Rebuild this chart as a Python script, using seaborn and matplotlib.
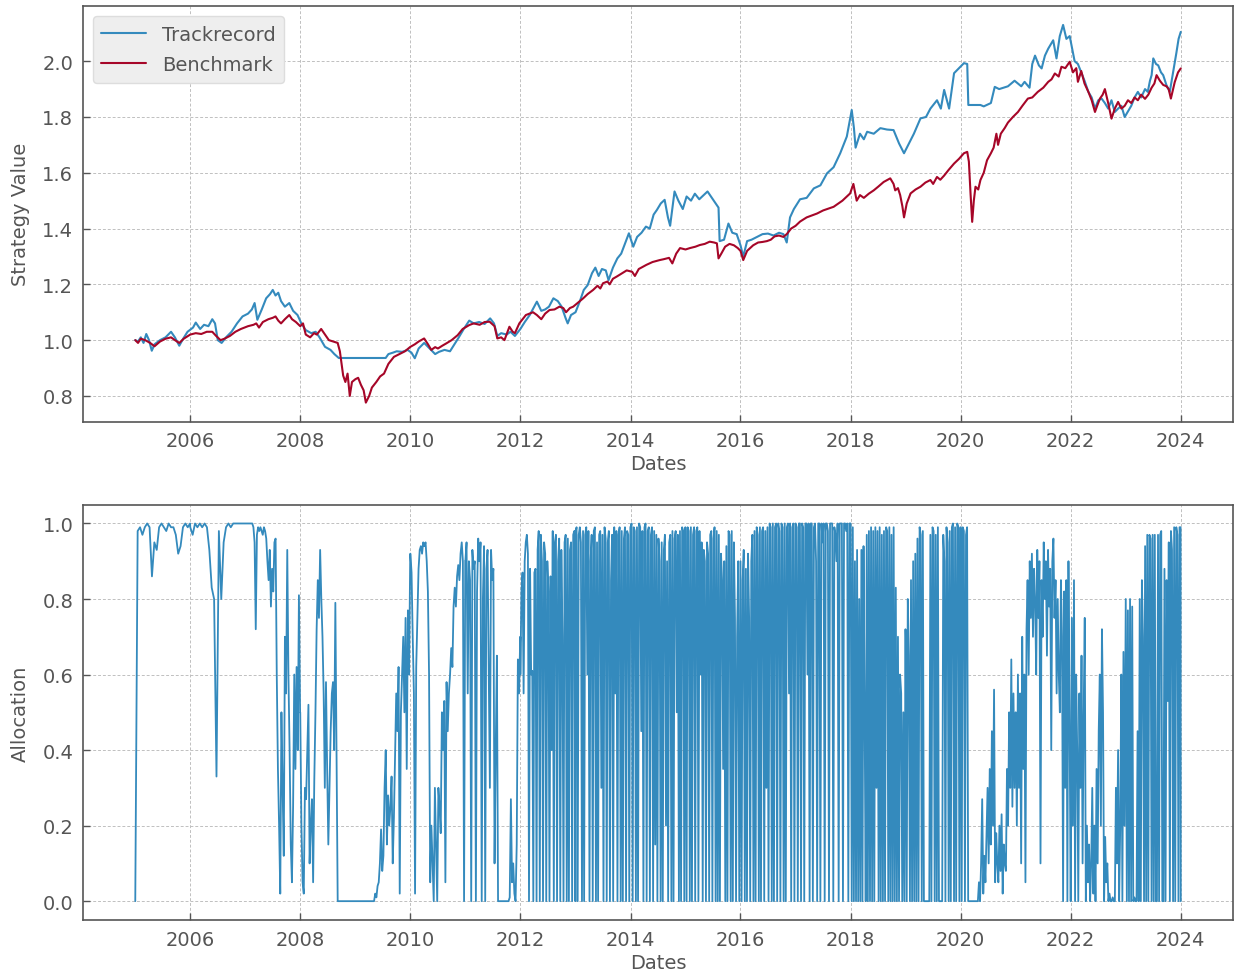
import matplotlib

matplotlib.use("Agg")
import matplotlib.dates as mdates
import matplotlib.pyplot as plt
import pandas as pd
import seaborn as sns
from matplotlib.ticker import MultipleLocator

BLUE = "#348ABD"
RED = "#A60628"
GREY = "#555555"

# ---------------------------------------------------------------------------
# Strategy value (decimal years)
# ---------------------------------------------------------------------------

track_years = [
    2005.00, 2005.05, 2005.10, 2005.15, 2005.20, 2005.25, 2005.30, 2005.35, 2005.45, 2005.55,
    2005.65, 2005.72, 2005.80, 2005.87, 2005.95, 2006.05, 2006.10, 2006.18, 2006.25, 2006.33,
    2006.40, 2006.45, 2006.50, 2006.57, 2006.65, 2006.75, 2006.85, 2006.95, 2007.05, 2007.12,
    2007.17, 2007.22, 2007.30, 2007.38, 2007.45, 2007.50, 2007.55, 2007.60, 2007.65, 2007.72,
    2007.80, 2007.87, 2007.95, 2008.02, 2008.10, 2008.20, 2008.28, 2008.35, 2008.45, 2008.55,
    2008.62, 2008.70, 2008.75, 2009.55, 2009.60, 2009.68, 2009.75, 2009.85, 2009.95, 2010.02,
    2010.08, 2010.15, 2010.25, 2010.35, 2010.45, 2010.52, 2010.62, 2010.72, 2010.80, 2010.88,
    2010.97, 2011.07, 2011.15, 2011.25, 2011.35, 2011.45, 2011.52, 2011.58, 2011.65, 2011.75,
    2011.82, 2011.90, 2012.00, 2012.08, 2012.17, 2012.25, 2012.30, 2012.38, 2012.45, 2012.52,
    2012.60, 2012.68, 2012.75, 2012.82, 2012.86, 2012.92, 2013.00, 2013.08, 2013.15, 2013.22,
    2013.30, 2013.36, 2013.42, 2013.48, 2013.55, 2013.60, 2013.68, 2013.76, 2013.83, 2013.90,
    2013.97, 2014.05, 2014.12, 2014.20, 2014.28, 2014.35, 2014.42, 2014.48, 2014.55, 2014.62,
    2014.68, 2014.72, 2014.80, 2014.87, 2014.95, 2015.02, 2015.10, 2015.17, 2015.25, 2015.33,
    2015.40, 2015.48, 2015.55, 2015.60, 2015.62, 2015.70, 2015.78, 2015.85, 2015.93, 2016.00,
    2016.05, 2016.12, 2016.20, 2016.30, 2016.40, 2016.50, 2016.60, 2016.70, 2016.78, 2016.84,
    2016.90, 2016.97, 2017.08, 2017.20, 2017.33, 2017.45, 2017.57, 2017.69, 2017.81, 2017.93,
    2018.02, 2018.06, 2018.09, 2018.17, 2018.24, 2018.30, 2018.42, 2018.54, 2018.66, 2018.78,
    2018.88, 2018.97, 2019.06, 2019.15, 2019.27, 2019.37, 2019.45, 2019.57, 2019.64, 2019.70,
    2019.79, 2019.88, 2020.06, 2020.12, 2020.14, 2020.36, 2020.42, 2020.55, 2020.62, 2020.70,
    2020.86, 2020.98, 2021.10, 2021.16, 2021.25, 2021.30, 2021.35, 2021.42, 2021.47, 2021.53,
    2021.59, 2021.68, 2021.74, 2021.80, 2021.86, 2021.92, 2021.98, 2022.07, 2022.13, 2022.19,
    2022.25, 2022.32, 2022.38, 2022.44, 2022.50, 2022.56, 2022.62, 2022.68, 2022.74, 2022.80,
    2022.86, 2022.92, 2022.98, 2023.04, 2023.10, 2023.16, 2023.22, 2023.28, 2023.35, 2023.40,
    2023.44, 2023.47, 2023.50, 2023.55, 2023.59, 2023.64, 2023.68, 2023.74, 2023.80, 2023.86,
    2023.92, 2023.96, 2024.00,
]
track_values = [
    1.000, 0.995, 1.010, 0.990, 1.022, 1.000, 0.962, 0.985, 1.000, 1.010,
    1.030, 1.010, 0.980, 1.005, 1.030, 1.045, 1.063, 1.040, 1.055, 1.050,
    1.075, 1.060, 1.000, 0.990, 1.010, 1.030, 1.060, 1.085, 1.095, 1.110,
    1.133, 1.073, 1.110, 1.150, 1.165, 1.180, 1.160, 1.170, 1.140, 1.120,
    1.133, 1.105, 1.090, 1.060, 1.036, 1.025, 1.030, 1.010, 0.976, 0.965,
    0.950, 0.936, 0.936, 0.936, 0.950, 0.955, 0.960, 0.958, 0.965, 0.955,
    0.935, 0.970, 0.990, 0.970, 0.950, 0.958, 0.965, 0.960, 0.985, 1.010,
    1.040, 1.070, 1.060, 1.065, 1.058, 1.078, 1.060, 1.015, 1.025, 1.020,
    1.030, 1.015, 1.040, 1.065, 1.090, 1.120, 1.138, 1.105, 1.110, 1.120,
    1.150, 1.140, 1.120, 1.080, 1.060, 1.090, 1.100, 1.140, 1.180, 1.197,
    1.240, 1.260, 1.230, 1.255, 1.250, 1.215, 1.260, 1.293, 1.310, 1.347,
    1.383, 1.335, 1.370, 1.385, 1.407, 1.400, 1.450, 1.467, 1.490, 1.503,
    1.440, 1.410, 1.533, 1.500, 1.470, 1.515, 1.500, 1.525, 1.505, 1.520,
    1.533, 1.510, 1.490, 1.475, 1.355, 1.360, 1.418, 1.385, 1.380, 1.340,
    1.300, 1.355, 1.360, 1.370, 1.380, 1.382, 1.375, 1.385, 1.380, 1.350,
    1.440, 1.470, 1.505, 1.510, 1.544, 1.555, 1.598, 1.620, 1.670, 1.730,
    1.825, 1.760, 1.690, 1.740, 1.720, 1.747, 1.740, 1.760, 1.755, 1.753,
    1.705, 1.670, 1.705, 1.740, 1.795, 1.800, 1.830, 1.860, 1.830, 1.897,
    1.830, 1.957, 1.993, 1.990, 1.843, 1.843, 1.838, 1.850, 1.908, 1.900,
    1.910, 1.930, 1.910, 1.926, 1.905, 1.990, 2.020, 1.985, 1.974, 2.020,
    2.045, 2.075, 2.010, 2.090, 2.130, 2.080, 2.090, 2.000, 1.990, 1.960,
    1.930, 1.890, 1.870, 1.830, 1.860, 1.866, 1.850, 1.830, 1.860, 1.818,
    1.830, 1.840, 1.800, 1.820, 1.840, 1.870, 1.890, 1.870, 1.900, 1.890,
    1.930, 1.950, 2.010, 1.990, 1.985, 1.960, 1.950, 1.914, 1.890, 1.960,
    2.030, 2.080, 2.105,
]

bench_years = [
    2005.00, 2005.05, 2005.10, 2005.18, 2005.27, 2005.35, 2005.45, 2005.55, 2005.65, 2005.72,
    2005.80, 2005.88, 2006.00, 2006.10, 2006.20, 2006.30, 2006.40, 2006.47, 2006.55, 2006.62,
    2006.72, 2006.82, 2006.92, 2007.05, 2007.15, 2007.20, 2007.25, 2007.32, 2007.42, 2007.50,
    2007.55, 2007.60, 2007.65, 2007.72, 2007.80, 2007.85, 2007.92, 2008.00, 2008.05, 2008.10,
    2008.18, 2008.25, 2008.30, 2008.38, 2008.45, 2008.52, 2008.60, 2008.68, 2008.72, 2008.78,
    2008.82, 2008.86, 2008.90, 2008.94, 2009.00, 2009.05, 2009.10, 2009.15, 2009.19, 2009.25,
    2009.30, 2009.38, 2009.45, 2009.52, 2009.60, 2009.70, 2009.80, 2009.90, 2010.00, 2010.08,
    2010.15, 2010.25, 2010.32, 2010.38, 2010.45, 2010.50, 2010.58, 2010.65, 2010.75, 2010.86,
    2010.95, 2011.07, 2011.15, 2011.26, 2011.35, 2011.44, 2011.53, 2011.58, 2011.65, 2011.71,
    2011.80, 2011.86, 2011.90, 2011.98, 2012.10, 2012.23, 2012.30, 2012.38, 2012.45, 2012.53,
    2012.62, 2012.71, 2012.78, 2012.83, 2012.90, 2012.96, 2013.05, 2013.14, 2013.22, 2013.32,
    2013.40, 2013.45, 2013.50, 2013.58, 2013.62, 2013.68, 2013.75, 2013.85, 2013.93, 2014.03,
    2014.08, 2014.15, 2014.29, 2014.40, 2014.53, 2014.60, 2014.70, 2014.76, 2014.83, 2014.90,
    2015.00, 2015.08, 2015.18, 2015.26, 2015.35, 2015.44, 2015.52, 2015.57, 2015.60, 2015.65,
    2015.72, 2015.80, 2015.88, 2015.95, 2016.00, 2016.05, 2016.12, 2016.23, 2016.32, 2016.40,
    2016.48, 2016.55, 2016.62, 2016.70, 2016.78, 2016.84, 2016.92, 2017.00, 2017.08, 2017.20,
    2017.39, 2017.50, 2017.69, 2017.85, 2017.99, 2018.05, 2018.08, 2018.11, 2018.17, 2018.24,
    2018.33, 2018.42, 2018.50, 2018.60, 2018.72, 2018.78, 2018.81, 2018.86, 2018.90, 2018.94,
    2018.97, 2019.02, 2019.09, 2019.18, 2019.27, 2019.36, 2019.45, 2019.50, 2019.57, 2019.63,
    2019.70, 2019.78, 2019.88, 2019.97, 2020.06, 2020.12, 2020.15, 2020.18, 2020.21, 2020.24,
    2020.27, 2020.32, 2020.36, 2020.42, 2020.48, 2020.55, 2020.60, 2020.65, 2020.68, 2020.73,
    2020.80, 2020.86, 2020.95, 2021.04, 2021.12, 2021.22, 2021.30, 2021.40, 2021.50, 2021.59,
    2021.65, 2021.71, 2021.78, 2021.83, 2021.90, 2021.98, 2022.04, 2022.10, 2022.13, 2022.19,
    2022.25, 2022.32, 2022.38, 2022.44, 2022.48, 2022.53, 2022.58, 2022.62, 2022.68, 2022.74,
    2022.80, 2022.86, 2022.92, 2022.98, 2023.04, 2023.10, 2023.16, 2023.22, 2023.28, 2023.35,
    2023.41, 2023.47, 2023.52, 2023.56, 2023.62, 2023.68, 2023.74, 2023.78, 2023.82, 2023.86,
    2023.89, 2023.95, 2024.00,
]
bench_values = [
    1.000, 0.990, 1.005, 1.000, 0.990, 0.978, 0.995, 1.005, 1.010, 1.000,
    0.990, 1.005, 1.020, 1.025, 1.022, 1.030, 1.030, 1.015, 1.000, 1.005,
    1.015, 1.030, 1.040, 1.050, 1.055, 1.060, 1.045, 1.065, 1.075, 1.080,
    1.085, 1.070, 1.060, 1.075, 1.090, 1.075, 1.065, 1.050, 1.060, 1.020,
    1.010, 1.025, 1.020, 1.040, 1.020, 1.000, 0.995, 0.990, 0.960, 0.873,
    0.850, 0.880, 0.800, 0.850, 0.860, 0.865, 0.840, 0.820, 0.776, 0.800,
    0.830, 0.850, 0.870, 0.880, 0.915, 0.940, 0.950, 0.960, 0.976, 0.985,
    0.995, 1.006, 0.985, 0.965, 0.975, 0.970, 0.980, 0.988, 1.000, 1.018,
    1.040, 1.054, 1.060, 1.055, 1.065, 1.066, 1.050, 1.006, 1.010, 1.000,
    1.048, 1.030, 1.025, 1.060, 1.090, 1.100, 1.090, 1.075, 1.095, 1.108,
    1.110, 1.120, 1.115, 1.100, 1.115, 1.120, 1.135, 1.150, 1.165, 1.180,
    1.195, 1.185, 1.204, 1.210, 1.200, 1.220, 1.228, 1.240, 1.250, 1.245,
    1.230, 1.255, 1.270, 1.280, 1.287, 1.290, 1.295, 1.275, 1.310, 1.330,
    1.325, 1.330, 1.335, 1.341, 1.345, 1.353, 1.350, 1.347, 1.293, 1.310,
    1.335, 1.345, 1.340, 1.330, 1.320, 1.287, 1.320, 1.340, 1.350, 1.352,
    1.355, 1.360, 1.372, 1.375, 1.370, 1.380, 1.400, 1.410, 1.425, 1.440,
    1.454, 1.465, 1.478, 1.500, 1.526, 1.560, 1.530, 1.500, 1.520, 1.510,
    1.525, 1.537, 1.550, 1.567, 1.580, 1.560, 1.537, 1.545, 1.520, 1.480,
    1.440, 1.490, 1.526, 1.540, 1.550, 1.565, 1.574, 1.560, 1.585, 1.575,
    1.590, 1.610, 1.633, 1.650, 1.670, 1.675, 1.640, 1.526, 1.424, 1.500,
    1.550, 1.540, 1.574, 1.600, 1.645, 1.670, 1.690, 1.740, 1.700, 1.740,
    1.760, 1.780, 1.800, 1.818, 1.840, 1.866, 1.870, 1.890, 1.905, 1.926,
    1.935, 1.956, 1.945, 1.980, 1.975, 1.998, 1.960, 1.975, 1.926, 1.965,
    1.920, 1.890, 1.860, 1.818, 1.840, 1.866, 1.880, 1.900, 1.850, 1.794,
    1.830, 1.854, 1.830, 1.840, 1.860, 1.850, 1.870, 1.860, 1.880, 1.865,
    1.880, 1.905, 1.920, 1.950, 1.930, 1.915, 1.910, 1.900, 1.866, 1.900,
    1.925, 1.960, 1.974,
]

# ---------------------------------------------------------------------------
# Allocation, one list per calendar year (evenly spread over that year)
# ---------------------------------------------------------------------------

alloc_2005 = [0.0, 0.98, 0.99, 0.97, 0.99, 1.0, 0.99, 0.86, 0.95, 0.93, 0.99, 1.0,
              0.99, 0.98, 1.0, 0.99, 0.99, 0.97, 0.92, 0.94, 0.99, 1.0, 0.99, 1.0]
alloc_2006 = [0.99, 0.97, 1.0, 0.99, 1.0, 0.99, 1.0, 0.99, 0.93, 0.83, 0.8, 0.33,
              0.98, 0.8, 0.95, 0.99, 1.0, 0.99, 1.0, 1.0, 1.0, 1.0, 1.0, 1.0]
alloc_2007 = [1.0, 1.0, 1.0, 1.0, 1.0, 1.0, 1.0, 0.99, 0.95, 0.72, 0.97, 0.99,
              0.98, 0.99, 0.98, 0.97, 0.99, 0.98, 0.96, 0.9, 0.85, 0.93, 0.78, 0.88,
              0.82, 0.95, 0.96, 0.6, 0.35, 0.2, 0.02, 0.5, 0.3, 0.12, 0.7, 0.55,
              0.93, 0.6, 0.4, 0.15, 0.05, 0.25, 0.6, 0.35, 0.62, 0.4, 0.81, 0.5]
alloc_2008 = [0.5, 0.2, 0.05, 0.02, 0.3, 0.27, 0.4, 0.52, 0.1, 0.2, 0.27, 0.05,
              0.32, 0.5, 0.72, 0.85, 0.75, 0.93, 0.8, 0.7, 0.55, 0.3, 0.58, 0.35,
              0.15, 0.3, 0.45, 0.55, 0.58, 0.4, 0.79, 0.38, 0.0, 0.0, 0.0, 0.0,
              0.0, 0.0, 0.0, 0.0, 0.0, 0.0, 0.0, 0.0, 0.0, 0.0, 0.0, 0.0]
alloc_2009 = [0.0, 0.0, 0.0, 0.0, 0.0, 0.0, 0.0, 0.0, 0.0, 0.0, 0.0, 0.0,
              0.0, 0.0, 0.0, 0.0, 0.0, 0.02, 0.01, 0.04, 0.05, 0.1, 0.19, 0.08,
              0.12, 0.3, 0.4, 0.15, 0.28, 0.2, 0.25, 0.33, 0.1, 0.22, 0.38, 0.55,
              0.45, 0.62, 0.02, 0.5, 0.6, 0.7, 0.5, 0.75, 0.35, 0.77, 0.6, 0.92]
alloc_2010 = [0.92, 0.87, 0.7, 0.55, 0.02, 0.62, 0.75, 0.88, 0.93, 0.94, 0.92, 0.95,
              0.94, 0.95, 0.9, 0.82, 0.6, 0.05, 0.2, 0.1, 0.0, 0.3, 0.15, 0.0,
              0.3, 0.25, 0.18, 0.5, 0.4, 0.53, 0.05, 0.58, 0.45, 0.55, 0.6, 0.67,
              0.62, 0.78, 0.83, 0.78, 0.86, 0.89, 0.85, 0.92, 0.95, 0.9, 0.0, 0.9]
alloc_2011 = [0.9, 0.95, 0.55, 0.9, 0.85, 0.0, 0.93, 0.88, 0.9, 0.0, 0.82, 0.96,
              0.9, 0.95, 0.0, 0.8, 0.94, 0.0, 0.88, 0.93, 0.6, 0.3, 0.93, 0.85,
              0.88, 0.1, 0.4, 0.65, 0.0, 0.0, 0.0, 0.0, 0.0, 0.0, 0.0, 0.0,
              0.0, 0.0, 0.01, 0.27, 0.05, 0.1, 0.02, 0.0, 0.15, 0.64, 0.55, 0.7]
alloc_2012 = [0.6, 0.82, 0.87, 0.55, 0.9, 0.95, 0.97, 0.92, 0.0, 0.88, 0.6, 0.61, 0.0,
              0.87, 0.88, 0.0, 0.93, 0.98, 0.0, 0.97, 0.9, 0.0, 0.95, 0.92, 0.0, 0.9,
              0.82, 0.0, 0.86, 0.4, 0.98, 0.0, 0.95, 0.97, 0.0, 0.9, 0.96, 0.0, 0.93,
              0.7, 0.0, 0.95, 0.97, 0.0, 0.96, 0.0, 0.93, 0.95, 0.0, 0.97, 0.98, 0.0]
alloc_2013 = [0.98, 0.99, 0.0, 0.97, 0.99, 0.95, 0.0, 0.98, 0.0, 0.97, 0.99, 0.6, 0.98,
              0.0, 0.9, 0.97, 0.0, 0.98, 0.99, 0.0, 0.95, 0.0, 0.97, 0.98, 0.3, 0.97,
              0.0, 0.99, 0.96, 0.0, 0.95, 0.98, 0.0, 0.85, 0.97, 0.0, 0.99, 0.55, 0.98,
              0.0, 0.97, 0.99, 0.0, 0.98, 0.0, 0.96, 0.99, 0.0, 0.98, 0.97, 0.0, 0.99]
alloc_2014 = [0.99, 1.0, 0.0, 0.99, 0.98, 0.0, 0.99, 0.0, 1.0, 0.99, 0.45, 0.98, 0.0,
              0.99, 1.0, 0.0, 0.98, 0.99, 0.0, 0.97, 0.99, 0.0, 0.98, 0.15, 0.97, 0.0,
              0.96, 0.9, 0.0, 0.95, 0.0, 0.93, 0.97, 0.2, 0.9, 0.0, 0.95, 0.97, 0.0,
              0.98, 0.0, 0.96, 0.98, 0.5, 0.97, 0.0, 0.98, 0.0, 0.99, 0.98, 0.0, 0.99]
alloc_2015 = [0.98, 0.0, 0.99, 0.98, 0.0, 0.99, 0.0, 0.97, 0.99, 0.0, 0.98, 0.99, 0.0,
              0.98, 0.6, 0.95, 0.0, 0.93, 0.9, 0.0, 0.95, 0.92, 0.0, 0.97, 0.98, 0.0,
              0.96, 0.99, 0.0, 0.98, 0.0, 0.97, 0.0, 0.92, 0.85, 0.35, 0.9, 0.0, 0.94,
              0.0, 0.98, 0.97, 0.0, 0.98, 0.0, 0.95, 0.75, 0.0, 0.7, 0.9, 0.0, 0.85]
alloc_2016 = [0.9, 0.0, 0.85, 0.93, 0.0, 0.88, 0.0, 0.92, 0.75, 0.0, 0.9, 0.97, 0.0,
              0.98, 0.0, 0.99, 0.97, 0.0, 0.99, 0.0, 0.98, 0.99, 0.0, 0.98, 0.3, 0.99,
              0.0, 1.0, 0.99, 0.0, 1.0, 0.0, 0.99, 1.0, 0.0, 1.0, 0.98, 0.0, 1.0,
              0.99, 0.0, 1.0, 0.0, 0.99, 1.0, 0.55, 1.0, 0.0, 0.99, 1.0, 0.0, 1.0]
alloc_2017 = [1.0, 0.99, 0.0, 1.0, 1.0, 0.0, 1.0, 0.99, 0.0, 1.0, 1.0, 0.6, 1.0,
              0.0, 1.0, 1.0, 0.0, 0.99, 1.0, 0.9, 0.0, 1.0, 1.0, 0.0, 1.0, 0.95,
              1.0, 0.0, 1.0, 1.0, 0.98, 0.0, 1.0, 1.0, 1.0, 0.0, 0.99, 0.97, 0.9,
              1.0, 0.0, 1.0, 1.0, 1.0, 0.0, 1.0, 1.0, 0.98, 1.0, 0.0, 1.0, 1.0]
alloc_2018 = [1.0, 0.0, 0.99, 0.0, 0.9, 0.0, 0.93, 0.0, 0.8, 0.0, 0.93, 0.0, 0.94,
              0.5, 0.0, 0.97, 0.0, 0.98, 0.0, 0.99, 0.0, 0.98, 0.0, 0.99, 0.3, 0.98,
              0.0, 0.99, 0.0, 0.97, 0.0, 0.98, 0.0, 0.99, 0.98, 0.0, 0.99, 0.0, 0.97,
              0.0, 0.99, 0.0, 0.83, 0.0, 0.7, 0.0, 0.6, 0.55, 0.0, 0.5, 0.0, 0.72]
alloc_2019 = [0.7, 0.0, 0.8, 0.65, 0.0, 0.85, 0.0, 0.9, 0.0, 0.92, 0.0, 0.96, 0.0,
              0.99, 0.97, 0.0, 0.98, 0.0, 0.0, 0.0, 0.0, 0.0, 0.0, 0.97, 0.0, 0.99,
              0.98, 0.0, 0.97, 0.0, 0.99, 0.0, 0.0, 0.0, 0.0, 0.97, 0.9, 0.0, 0.99,
              0.95, 0.0, 0.98, 0.0, 0.99, 1.0, 0.0, 0.99, 0.0, 1.0, 0.99, 0.0, 0.99]
alloc_2020 = [0.99, 0.0, 0.99, 0.98, 0.0, 0.97, 0.99, 0.0, 0.0, 0.0, 0.0, 0.0, 0.0,
              0.0, 0.0, 0.0, 0.0, 0.05, 0.0, 0.1, 0.27, 0.02, 0.12, 0.05, 0.18, 0.3,
              0.1, 0.35, 0.15, 0.45, 0.2, 0.56, 0.05, 0.18, 0.1, 0.05, 0.2, 0.08, 0.23,
              0.02, 0.15, 0.1, 0.08, 0.35, 0.2, 0.5, 0.3, 0.64, 0.25, 0.55, 0.3, 0.5]
alloc_2021 = [0.5, 0.2, 0.6, 0.3, 0.55, 0.1, 0.7, 0.35, 0.6, 0.05, 0.72, 0.85, 0.6,
              0.9, 0.75, 0.92, 0.7, 0.88, 0.8, 0.6, 0.93, 0.75, 0.9, 0.1, 0.85, 0.7,
              0.95, 0.8, 0.9, 0.65, 0.93, 0.78, 0.88, 0.4, 0.9, 0.96, 0.75, 0.85, 0.55,
              0.8, 0.6, 0.5, 0.85, 0.7, 0.0, 0.82, 0.3, 0.85, 0.0, 0.9, 0.5, 0.0]
alloc_2022 = [0.0, 0.75, 0.2, 0.85, 0.0, 0.6, 0.4, 0.0, 0.55, 0.3, 0.65, 0.1, 0.5,
              0.75, 0.0, 0.2, 0.05, 0.15, 0.0, 0.1, 0.3, 0.02, 0.2, 0.0, 0.35, 0.1,
              0.45, 0.6, 0.2, 0.72, 0.5, 0.0, 0.17, 0.05, 0.1, 0.0, 0.02, 0.0, 0.0,
              0.01, 0.0, 0.0, 0.3, 0.1, 0.4, 0.0, 0.2, 0.6, 0.0, 0.66, 0.2, 0.77]
alloc_2023 = [0.8, 0.0, 0.77, 0.0, 0.8, 0.0, 0.78, 0.0, 0.01, 0.0, 0.0, 0.45, 0.0,
              0.8, 0.0, 0.85, 0.7, 0.0, 0.94, 0.0, 0.97, 0.0, 0.97, 0.96, 0.0, 0.97,
              0.0, 0.97, 0.0, 0.0, 0.97, 0.0, 0.97, 0.98, 0.0, 0.0, 0.88, 0.0, 0.85,
              0.53, 0.95, 0.0, 0.98, 0.93, 0.0, 0.99, 0.0, 0.99, 0.97, 0.0, 0.99, 0.99]
alloc_final_date = "2024-01-01"
alloc_final_value = 0.0

alloc_by_year = [
    (2005, alloc_2005), (2006, alloc_2006), (2007, alloc_2007), (2008, alloc_2008),
    (2009, alloc_2009), (2010, alloc_2010), (2011, alloc_2011), (2012, alloc_2012),
    (2013, alloc_2013), (2014, alloc_2014), (2015, alloc_2015), (2016, alloc_2016),
    (2017, alloc_2017), (2018, alloc_2018), (2019, alloc_2019), (2020, alloc_2020),
    (2021, alloc_2021), (2022, alloc_2022), (2023, alloc_2023),
]


def to_dates(years):
    """Decimal year -> Timestamp."""
    out = []
    for y in years:
        base = pd.Timestamp(int(y), 1, 1)
        out.append(base + pd.Timedelta(days=(y - int(y)) * 365.25))
    return out


# ---------------------------------------------------------------------------
# DataFrames
# ---------------------------------------------------------------------------

df_value = pd.concat(
    [
        pd.DataFrame({"Dates": to_dates(track_years), "Strategy Value": track_values,
                      "serie": "Trackrecord"}),
        pd.DataFrame({"Dates": to_dates(bench_years), "Strategy Value": bench_values,
                      "serie": "Benchmark"}),
    ],
    ignore_index=True,
)

partes = []
for ano, valores in alloc_by_year:
    datas = pd.date_range(f"{ano}-01-01", f"{ano}-12-31", periods=len(valores))
    partes.append(pd.DataFrame({"Dates": datas, "Allocation": valores}))
partes.append(pd.DataFrame({"Dates": [pd.Timestamp(alloc_final_date)],
                            "Allocation": [alloc_final_value]}))
df_alloc = pd.concat(partes, ignore_index=True)

# ---------------------------------------------------------------------------
# Plot
# ---------------------------------------------------------------------------

sns.set_theme(style="white", rc={
    "font.size": 14,
    "axes.labelsize": 14,
    "xtick.labelsize": 14,
    "ytick.labelsize": 14,
    "legend.fontsize": 14,
    "axes.edgecolor": GREY,
    "axes.labelcolor": GREY,
    "xtick.color": GREY,
    "ytick.color": GREY,
    "text.color": GREY,
})
plt.rcParams["font.family"] = ["DejaVu Sans"]

fig, (ax1, ax2) = plt.subplots(2, 1, figsize=(12.35, 9.79), dpi=100)
fig.subplots_adjust(left=0.0672, right=0.9984, top=0.9928, bottom=0.0592, hspace=0.2)

sns.lineplot(
    data=df_value, x="Dates", y="Strategy Value", hue="serie",
    hue_order=["Trackrecord", "Benchmark"],
    palette={"Trackrecord": BLUE, "Benchmark": RED},
    estimator=None, linewidth=1.5, ax=ax1,
)
sns.lineplot(
    data=df_alloc, x="Dates", y="Allocation", color=BLUE,
    estimator=None, linewidth=1.3, ax=ax2,
)

sns.move_legend(
    ax1, "upper left", title=None, frameon=True, fancybox=True,
    facecolor="#eeeeee", edgecolor="#dddddd", framealpha=1.0,
    borderpad=0.45, handlelength=2.3, labelspacing=0.6,
)
for txt in ax1.get_legend().get_texts():
    txt.set_color(GREY)

for ax in (ax1, ax2):
    ax.xaxis.set_major_locator(mdates.YearLocator(2))
    ax.xaxis.set_major_formatter(mdates.DateFormatter("%Y"))
    ax.yaxis.set_major_locator(MultipleLocator(0.2))
    ax.yaxis.set_major_formatter(plt.FuncFormatter(lambda v, _: f"{v:.1f}"))
    ax.grid(True, linestyle=(0, (3, 2)), linewidth=0.7, color="#c0c0c0")
    ax.tick_params(direction="in", length=5, width=1, colors=GREY, pad=7,
                   top=False, right=False, bottom=True, left=True)
    for sp in ax.spines.values():
        sp.set_color(GREY)
        sp.set_linewidth(1.2)
    ax.set_xlabel("Dates", labelpad=3)
    ax.yaxis.labelpad = 9

fig.savefig("out.png", dpi=100)
